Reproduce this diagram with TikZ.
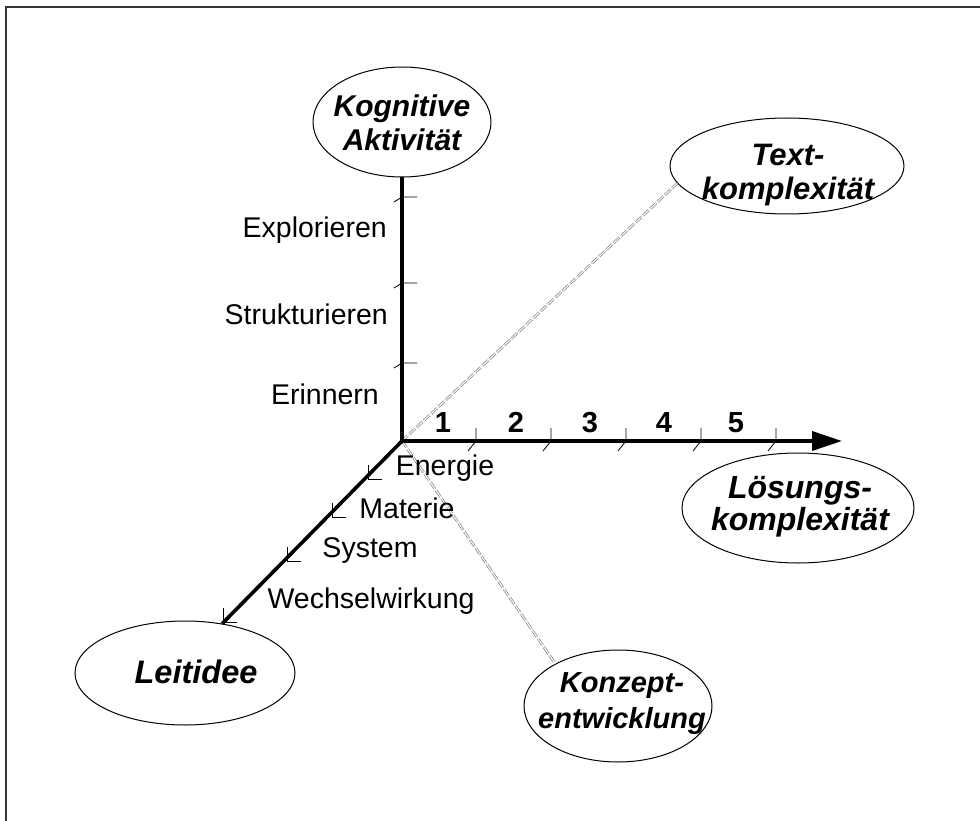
\documentclass[tikz,border=0pt]{standalone}
\usepackage{fontspec}
\setmainfont{Liberation Sans}
\usetikzlibrary{shapes.geometric,arrows.meta}
\begin{document}
\begin{tikzpicture}[x=1pt,y=-1pt,
  axisline/.style={line width=3.6pt},
  tickline/.style={line width=0.8pt},
  lbl/.style={font=\fontsize{28.5}{33}\selectfont, anchor=base, inner sep=0},
  num/.style={font=\fontsize{29}{33}\selectfont\bfseries, anchor=base, inner sep=0},
  ell/.style={ellipse, draw, line width=1pt, inner sep=0},
  etext/.style={align=center, inner sep=0, anchor=base, font=\bfseries\itshape},
  guide/.style={draw=gray, double=white, double distance=1.1pt, line width=0.7pt,
    dash pattern=on 8pt off 2pt}]
\useasboundingbox (0,0) rectangle (980,821);
\draw[line width=1.5pt, black!80] (6,821) -- (6,7) -- (980,7);

% ellipses
\node[ell, minimum width=178, minimum height=110] (kog) at (402,122) {};
\node[ell, minimum width=234, minimum height=96] (txt) at (787,166) {};
\node[ell, minimum width=232, minimum height=110] (loes) at (798,508) {};
\node[ell, minimum width=188, minimum height=112] (konz) at (618,706) {};
\node[ell, minimum width=220, minimum height=104] (leit) at (185,673) {};

% ellipse texts (anchor = baseline of last line)
\node[etext, font=\fontsize{30}{34}\selectfont\bfseries\itshape] (kogt) at (402,151) {Kognitive\\Aktivität};
\node[etext, font=\fontsize{31}{34}\selectfont\bfseries\itshape] (txtt) at (788,200) {Text-\\komplexität};
\node[etext, font=\fontsize{32}{32}\selectfont\bfseries\itshape] (loest) at (800,530) {Lösungs-\\komplexität};
\node[etext, font=\fontsize{29}{36}\selectfont\bfseries\itshape] (konzt) at (622,728) {Konzept-\\entwicklung};
\node[etext, font=\fontsize{32.5}{36}\selectfont\bfseries\itshape] (leitt) at (196,683) {Leitidee};

\coordinate (O) at (402,441);
\coordinate (tip) at (842,441);

% guide lines
\draw[guide] (O) -- (txt.189);
\draw[guide] (O) -- (konz.146);

% axes
\draw[axisline] (O) -- (kog.south);
\draw[axisline, -{Triangle[length=30pt,width=19pt]}] (O) -- (tip);
\draw[axisline] (O) -- (leit.53);

% ticks vertical axis
\foreach \y in {197,283,363}
  \draw[tickline] (394,\y+5) -- (402,\y) -- (417,\y);
% ticks horizontal axis
\foreach \x in {476,551,626,701,776}
  \draw[tickline] (\x,428) -- (\x,441) -- (\x-8,451);
% ticks diagonal axis
\foreach \x/\y in {368/479,332/517,287/561,223/622}
  \draw[tickline] (\x,\y-14) -- (\x,\y) -- (\x+14,\y);

% vertical labels
\node[lbl, anchor=base east] (expl) at (387,237) {Explorieren};
\node[lbl, anchor=base east] (strk) at (388,324) {Strukturieren};
\node[lbl, anchor=base east] (erin) at (379,404) {Erinnern};

% numbers
\node[num] (n1) at (443,432) {1};
\node[num] (n2) at (516,432) {2};
\node[num] (n3) at (590,432) {3};
\node[num] (n4) at (664,432) {4};
\node[num] (n5) at (736,432) {5};

% diagonal labels
\node[lbl] (ener) at (445,475) {Energie};
\node[lbl] (mate) at (407,518) {Materie};
\node[lbl] (syst) at (370,557) {System};
\node[lbl] (wech) at (371,608) {Wechselwirkung};
\end{tikzpicture}
\end{document}
